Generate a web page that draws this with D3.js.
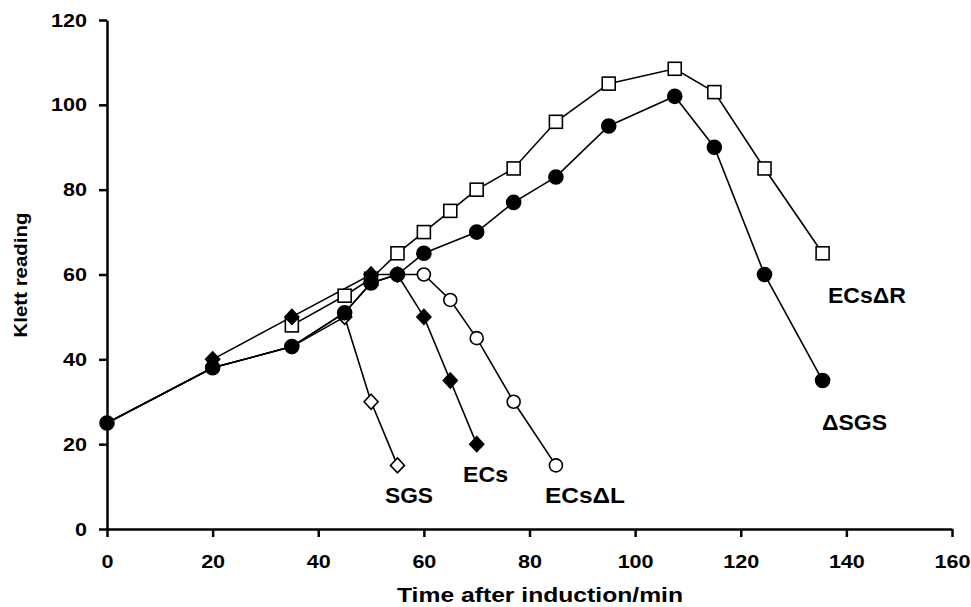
<!DOCTYPE html>
<html>
<head>
<meta charset="utf-8">
<script src="https://cdn.jsdelivr.net/npm/d3@7"></script>
<style>
  body { margin: 0; background: #fff; }
  svg text { font-family: "Liberation Sans", Arial, sans-serif; font-weight: bold; fill: #000; }
</style>
</head>
<body>
<svg id="chart" width="971" height="607"></svg>
<script>
// time after induction (min) and Klett reading, per strain
var sgsTime    = [0, 20, 35, 45, 50, 55];
var sgsKlett   = [25, 38, 43, 50, 30, 15];
var ecsTime    = [20, 35, 50, 55, 60, 65, 70];
var ecsKlett   = [40, 50, 60, 60, 50, 35, 20];
var ecsdlTime  = [0, 20, 35, 45, 50, 55, 60, 65, 70, 77, 85];
var ecsdlKlett = [25, 38, 43, 51, 58, 60, 60, 54, 45, 30, 15];
var ecsdrTime  = [35, 45, 50, 55, 60, 65, 70, 77, 85, 95, 107.5, 115, 124.5, 135.5];
var ecsdrKlett = [48, 55, 59, 65, 70, 75, 80, 85, 96, 105, 108.5, 103, 85, 65];
var dsgsTime   = [0, 20, 35, 45, 50, 55, 60, 70, 77, 85, 95, 107.5, 115, 124.5, 135.5];
var dsgsKlett  = [25, 38, 43, 51, 58, 60, 65, 70, 77, 83, 95, 102, 90, 60, 35];

var xTicks = [0, 20, 40, 60, 80, 100, 120, 140, 160];
var yTicks = [0, 20, 40, 60, 80, 100, 120];

function pts(t, k){ return t.map(function(d, i){ return {x: d, y: k[i]}; }); }

var svg = d3.select("#chart");
var x = d3.scaleLinear().domain([0, 160]).range([107, 952]);
var y = d3.scaleLinear().domain([0, 120]).range([529, 20]);

// axes
var xAxis = svg.append("g").attr("transform", "translate(0,529)")
    .call(d3.axisBottom(x).tickValues(xTicks).tickSize(8).tickSizeOuter(0).tickPadding(18));
var yAxis = svg.append("g").attr("transform", "translate(107,0)")
    .call(d3.axisLeft(y).tickValues(yTicks).tickSize(8).tickSizeOuter(0).tickPadding(12));
[xAxis, yAxis].forEach(function(a){
    a.selectAll("path, line").attr("stroke", "#000").attr("stroke-width", 2.5);
    a.selectAll("text").attr("font-size", 19)
        .style("font-family", "'Liberation Sans', Arial, sans-serif").style("font-weight", "bold")
        .attr("textLength", function(d){ return String(d).length * 12; })
        .attr("lengthAdjust", "spacingAndGlyphs");
});

// lines
var line = d3.line().x(function(d){ return x(d.x); }).y(function(d){ return y(d.y); });
var series = [
    pts(dsgsTime, dsgsKlett), pts(ecsdrTime, ecsdrKlett), pts(ecsTime, ecsKlett),
    pts(sgsTime, sgsKlett), pts(ecsdlTime, ecsdlKlett)
];
svg.append("g").selectAll("path").data(series).enter().append("path")
    .attr("d", line).attr("fill", "none").attr("stroke", "#000").attr("stroke-width", 1.6);

// markers (drawn in stacking order)
var g = svg.append("g").attr("stroke", "#000").attr("stroke-width", 1.6);
function diamond(sel, fill){
    sel.append("path").attr("d", "M0,-7.5L7,0L0,7.5L-7,0Z").attr("fill", fill)
        .attr("transform", function(d){ return "translate(" + x(d.x) + "," + y(d.y) + ")"; });
}
g.selectAll(".oc").data(pts(ecsdlTime, ecsdlKlett).filter(function(d){ return d.x >= 60; }))
    .enter().append("circle").attr("class", "oc")
    .attr("cx", function(d){ return x(d.x); }).attr("cy", function(d){ return y(d.y); })
    .attr("r", 6.5).attr("fill", "#fff");
g.selectAll(".od").data(pts(sgsTime, sgsKlett).filter(function(d){ return d.x >= 45; }))
    .enter().call(diamond, "#fff");
g.selectAll(".sq").data(pts(ecsdrTime, ecsdrKlett))
    .enter().append("rect").attr("class", "sq")
    .attr("x", function(d){ return x(d.x) - 6.5; }).attr("y", function(d){ return y(d.y) - 6.5; })
    .attr("width", 13).attr("height", 13).attr("fill", "#fff");
g.selectAll(".fd").data(pts(ecsTime, ecsKlett))
    .enter().call(diamond, "#000");
g.selectAll(".fc").data(pts(dsgsTime, dsgsKlett))
    .enter().append("circle").attr("class", "fc")
    .attr("cx", function(d){ return x(d.x); }).attr("cy", function(d){ return y(d.y); })
    .attr("r", 7).attr("fill", "#000");

// series labels
var labels = [
    {t: "SGS", x: 385, y: 503, w: 48},
    {t: "ECs", x: 463, y: 482, w: 45},
    {t: "ECs\u0394L", x: 545, y: 503, w: 80},
    {t: "ECs\u0394R", x: 828, y: 303, w: 78},
    {t: "\u0394SGS", x: 822, y: 430, w: 65}
];
svg.selectAll(".lab").data(labels).enter().append("text")
    .attr("x", function(d){ return d.x; }).attr("y", function(d){ return d.y; })
    .attr("font-size", 22).attr("textLength", function(d){ return d.w; })
    .attr("lengthAdjust", "spacingAndGlyphs").text(function(d){ return d.t; });

// axis titles
svg.append("text").attr("x", 397).attr("y", 602).attr("font-size", 20)
    .attr("textLength", 286).attr("lengthAdjust", "spacingAndGlyphs")
    .text("Time after induction/min");
svg.append("text").attr("transform", "translate(27,275) rotate(-90)")
    .attr("text-anchor", "middle").attr("font-size", 19)
    .attr("textLength", 125).attr("lengthAdjust", "spacingAndGlyphs")
    .text("Klett reading");
</script>
</body>
</html>
